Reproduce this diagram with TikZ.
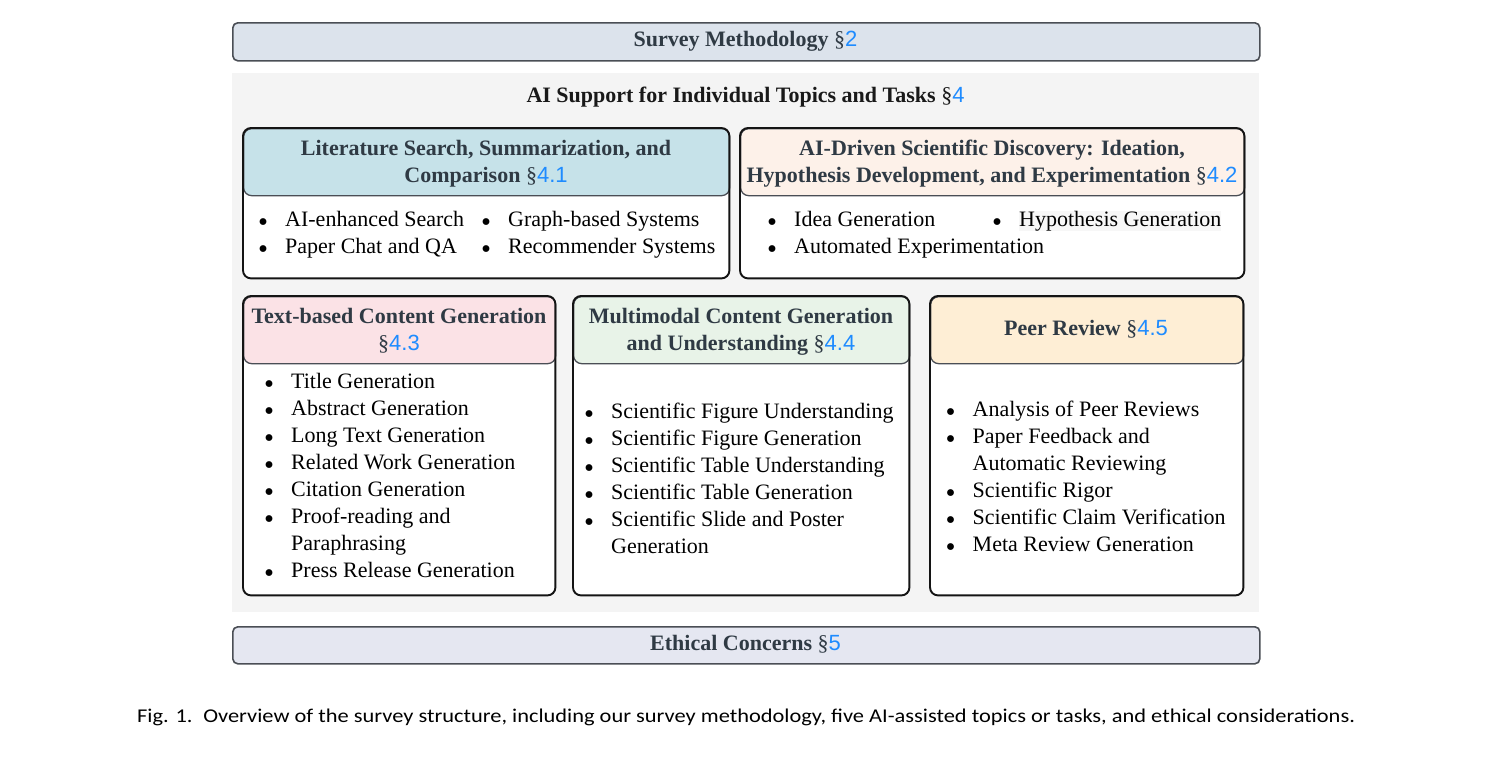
\documentclass[tikz,border=0pt]{standalone}
\usepackage{fontspec}
\usepackage{array}
\usepackage{graphicx}
\setmainfont{Liberation Serif}
\newfontfamily\numfont{Liberation Sans}
\newfontfamily\capfont[FakeStretch=1.149]{Carlito}

\definecolor{hdtext}{HTML}{2F3A44}
\definecolor{secblue}{HTML}{1E8BFF}
\definecolor{bgpanel}{HTML}{F4F4F4}
\definecolor{barA}{HTML}{DCE3EC}
\definecolor{barB}{HTML}{E5E7F1}
\definecolor{hdA}{HTML}{C6E2E9}
\definecolor{hdB}{HTML}{FDF1E9}
\definecolor{hdC}{HTML}{FBE2E6}
\definecolor{hdD}{HTML}{E8F3E8}
\definecolor{hdE}{HTML}{FEEED5}
\definecolor{edgegrey}{HTML}{4A4E55}
\definecolor{faint}{HTML}{F7F7F7}

\newcommand\headsize{\fontsize{22}{27}\selectfont}
\newcommand\bodysize{\fontsize{22}{27}\selectfont}
% section reference: plain section sign, blue sans number
\newcommand\secref[1]{{\mdseries\S}{\mdseries\numfont\color{secblue}#1}}
% a slightly larger, lower bullet
\newcommand\bul{\raisebox{-0.23em}{\scalebox{1.3}{\textbullet}}}
% bullet list as a two-column table
\newcommand\blist[1]{\begin{tabular}[t]{@{}p{27pt}@{}l@{}}#1\end{tabular}}
\newcommand\hlines[1]{\begin{tabular}[t]{@{}c@{}}#1\end{tabular}}

\tikzset{
  bar/.style={draw=edgegrey, line width=1.6pt, rounded corners=5pt, inner sep=0pt, anchor=north west},
  cardbody/.style={fill=white, draw=none, rounded corners=8pt, inner sep=0pt, anchor=north west},
  cardhead/.style={draw=edgegrey, line width=1.3pt, rounded corners=8pt, inner sep=0pt, anchor=north west},
  cardline/.style={draw=black!92, line width=1.9pt, rounded corners=8pt},
  hdlabel/.style={inner sep=0pt, anchor=north, font=\headsize\bfseries, text=hdtext},
  itemlist/.style={inner sep=0pt, anchor=north west, font=\bodysize, text=black},
}

\begin{document}
\begin{tikzpicture}[x=1pt,y=-1pt]
\useasboundingbox (0,0) rectangle (1501,772);

% top and bottom bars
\node[bar, fill=barA, minimum width=1027pt, minimum height=38pt] (method) at (232,22) {};
\node[hdlabel] (methodtxt) at (745.5,46.7-18.9) {\hlines{Survey Methodology \secref{2}}};

% shaded panel for section 4
\node[fill=bgpanel, inner sep=0pt, anchor=north west, minimum width=1027pt, minimum height=539pt] (panel) at (232,73) {};
\node[hdlabel, text=black!90] (paneltxt) at (745.5,102-18.9) {\hlines{AI Support for Individual Topics and Tasks \secref{4}}};

\node[bar, fill=barB, minimum width=1027pt, minimum height=37pt] (ethics) at (232,626) {};
\node[hdlabel] (ethicstxt) at (745.5,650.5-18.9) {\hlines{Ethical Concerns \secref{5}}};

% ---- card 4.1
\node[cardbody, minimum width=486pt, minimum height=150pt] (litbox) at (243,128) {};
\node[cardhead, fill=hdA, minimum width=486pt, minimum height=67pt] (lithead) at (243,128) {};
\draw[cardline] (litbox.north west) rectangle (litbox.south east);
\node[hdlabel] (littxt) at (486,155.5-18.9) {\hlines{Literature Search, Summarization, and\\ Comparison \secref{4.1}}};
\node[itemlist] (lita) at (285-27,226-18.9) {\blist{\bul & AI-enhanced Search\\ \bul & Paper Chat and QA}};
\node[itemlist] (litb) at (508-27,226-18.9) {\blist{\bul & Graph-based Systems\\ \bul & Recommender Systems}};

% ---- card 4.2
\node[cardbody, minimum width=504pt, minimum height=150pt] (discbox) at (740,128) {};
\node[cardhead, fill=hdB, minimum width=504pt, minimum height=67pt] (dischead) at (740,128) {};
\draw[cardline] (discbox.north west) rectangle (discbox.south east);
\node[hdlabel] (disctxt) at (992,155.5-18.9) {\hlines{AI-Driven Scientific Discovery: Ideation,\\ Hypothesis Development, and Experimentation \secref{4.2}}};
\node[itemlist] (disca) at (794-27,226-18.9) {\blist{\bul & Idea Generation\\ \bul & Automated Experimentation}};
\node[itemlist] (discb) at (1019-27,226-18.9) {\blist{\bul & {\fboxsep=0pt\colorbox{faint}{Hypothesis Generation}}}};

% ---- card 4.3
\node[cardbody, minimum width=312pt, minimum height=299pt] (textbox) at (243,296) {};
\node[cardhead, fill=hdC, minimum width=312pt, minimum height=67pt] (texthead) at (243,296) {};
\draw[cardline] (textbox.north west) rectangle (textbox.south east);
\node[hdlabel] (texttxt) at (399,323-18.9) {\hlines{Text-based Content Generation\\ \secref{4.3}}};
\node[itemlist] (textlist) at (291-27,388-18.9) {\blist{%
  \bul & Title Generation\\
  \bul & Abstract Generation\\
  \bul & Long Text Generation\\
  \bul & Related Work Generation\\
  \bul & Citation Generation\\
  \bul & Proof-reading and\\
       & Paraphrasing\\
  \bul & Press Release Generation}};

% ---- card 4.4
\node[cardbody, minimum width=336pt, minimum height=299pt] (mmbox) at (573,296) {};
\node[cardhead, fill=hdD, minimum width=336pt, minimum height=67pt] (mmhead) at (573,296) {};
\draw[cardline] (mmbox.north west) rectangle (mmbox.south east);
\node[hdlabel] (mmtxt) at (741,323-18.9) {\hlines{Multimodal Content Generation\\ and Understanding \secref{4.4}}};
\node[itemlist] (mmlist) at (611-27,418-18.9) {\blist{%
  \bul & Scientific Figure Understanding\\
  \bul & Scientific Figure Generation\\
  \bul & Scientific Table Understanding\\
  \bul & Scientific Table Generation\\
  \bul & Scientific Slide and Poster\\
       & Generation}};

% ---- card 4.5
\node[cardbody, minimum width=313pt, minimum height=299pt] (prbox) at (930,296) {};
\node[cardhead, fill=hdE, minimum width=313pt, minimum height=67pt] (prhead) at (930,296) {};
\draw[cardline] (prbox.north west) rectangle (prbox.south east);
\node[hdlabel] (prtxt) at (1086,335.7-18.9) {\hlines{Peer Review \secref{4.5}}};
\node[itemlist] (prlist) at (972.5-27,416-18.9) {\blist{%
  \bul & Analysis of Peer Reviews\\
  \bul & Paper Feedback and\\
       & Automatic Reviewing\\
  \bul & Scientific Rigor\\
  \bul & Scientific Claim Verification\\
  \bul & Meta Review Generation}};

% caption
\node[anchor=base west, inner sep=0pt, font=\capfont\fontsize{19.5}{23}\selectfont] (caption) at (137,722)
  {Fig. 1.\hspace{0.55em}Overview of the survey structure, including our survey methodology, five AI-assisted topics or tasks, and ethical considerations.};
\end{tikzpicture}
\end{document}
